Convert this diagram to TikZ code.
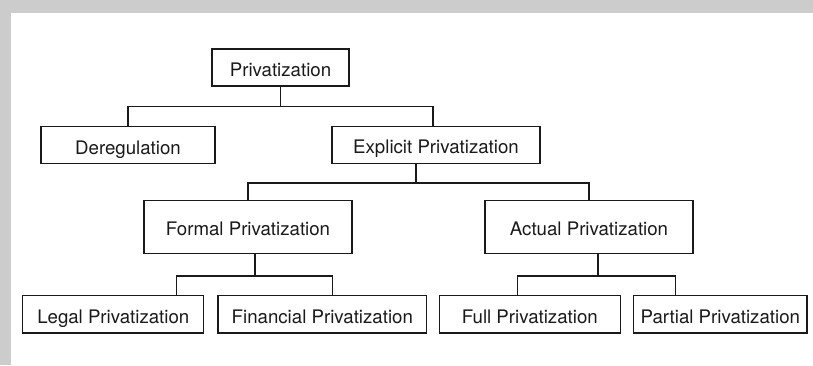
\documentclass[tikz,border=0pt]{standalone}
\usepackage{fontspec}
\setmainfont{TeX Gyre Heros}
\definecolor{bggray}{HTML}{CCCCCC}
\definecolor{ink}{HTML}{1A1A1A}
\begin{document}
\begin{tikzpicture}[x=0.75pt,y=-0.75pt,
  box/.style={draw=ink,line width=0.85pt,rectangle,inner sep=0pt,outer sep=0pt,
    minimum height=37*0.75pt,text=ink,font=\fontsize{14}{16}\selectfont,
    text height=13.4pt,text depth=0pt},
  tall/.style={minimum height=52.6*0.75pt},
  conn/.style={draw=ink,line width=0.85pt}]
\useasboundingbox (0,0) rectangle (813,365);
\fill[bggray] (0,0) rectangle (813,365);
\fill[white] (11,13) rectangle (813,365);
\node[box,minimum width=137*0.75pt] (P) at (280.5,67.5) {Privatization};
\node[box,minimum width=174*0.75pt] (D) at (128,145.3) {Deregulation};
\node[box,minimum width=208*0.75pt] (E) at (436,145) {Explicit Privatization};
\node[box,tall,minimum width=208*0.75pt] (F) at (248,227) {Formal Privatization};
\node[box,tall,minimum width=208*0.75pt] (A) at (589,227) {Actual Privatization};
\node[box,minimum width=181*0.75pt,minimum height=37.7*0.75pt] (L) at (113.3,314.2) {Legal Privatization};
\node[box,minimum width=208.7*0.75pt,minimum height=37.7*0.75pt] (Fi) at (322.3,314.2) {Financial Privatization};
\node[box,minimum width=181*0.75pt,minimum height=37.7*0.75pt] (Fu) at (529.8,314.2) {Full Privatization};
\node[box,minimum width=173.3*0.75pt,minimum height=37.7*0.75pt] (Pa) at (720.3,314.2) {Partial Privatization};
% level 1
\draw[conn] (P.south) -- ++(0,20.5) coordinate (h1);
\draw[conn] (h1) -| (D.north);
\draw[conn] (h1) -| ([shift={(-3,0)}]E.north);
% level 2
\draw[conn] ([shift={(-20,0)}]E.south) -- ++(0,19.5) coordinate (h2);
\draw[conn] (h2) -| (F.north);
\draw[conn] (h2) -| (A.north);
% level 3 left
\draw[conn] ([shift={(7,0)}]F.south) -- ++(0,22.7) coordinate (h3);
\draw[conn] (h3) -| ([shift={(63,0)}]L.north);
\draw[conn] (h3) -| ([shift={(10,0)}]Fi.north);
% level 3 right
\draw[conn] ([shift={(9,0)}]A.south) -- ++(0,22.7) coordinate (h4);
\draw[conn] (h4) -| ([shift={(-12,0)}]Fu.north);
\draw[conn] (h4) -| ([shift={(-45,0)}]Pa.north);
\end{tikzpicture}
\end{document}
